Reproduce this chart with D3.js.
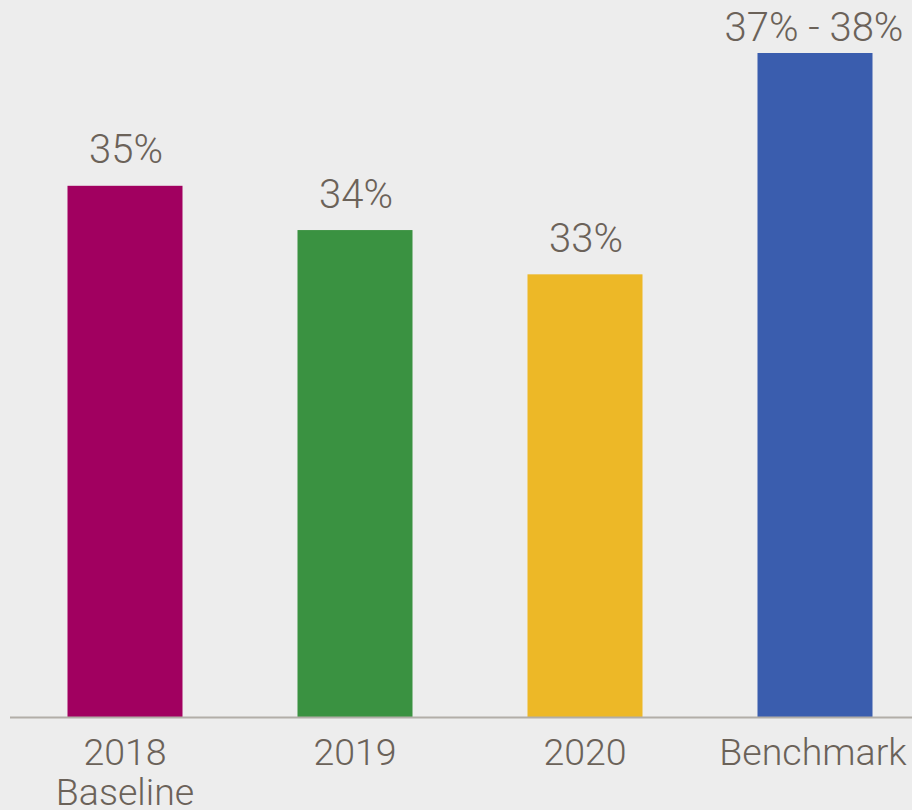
<!DOCTYPE html>
<html>
<head>
<meta charset="utf-8">
<script src="https://cdn.jsdelivr.net/npm/d3@7"></script>
<style>
  html, body { margin: 0; padding: 0; background: #ededed; }
  svg { display: block; }
  text { font-family: Roboto, "Noto Sans", sans-serif; font-weight: 300; fill: #6b6259; }
</style>
</head>
<body>
<svg id="chart" width="912" height="810"></svg>
<script>
const categories = ["2018|Baseline", "2019", "2020", "Benchmark"];
const values = [35, 34, 33, 38];
const valueLabels = ["35%", "34%", "33%", "37% - 38%"];
const colors = ["#a10060", "#3a9241", "#edb827", "#3a5dae"];

const W = 912, H = 810;
const svg = d3.select("#chart");
svg.append("rect").attr("width", W).attr("height", H).attr("fill", "#ededed");

const x = d3.scaleBand().domain(categories).range([10, 930]).paddingInner(0.5).paddingOuter(0.25);
const y = d3.scaleLinear().domain([23, 38]).range([717, 53]);

const data = categories.map((c, i) => ({ c, v: values[i], label: valueLabels[i], color: colors[i] }));

svg.selectAll("rect.bar").data(data).enter().append("rect")
  .attr("class", "bar")
  .attr("x", d => x(d.c))
  .attr("width", x.bandwidth())
  .attr("y", d => y(d.v))
  .attr("height", d => y(23) - y(d.v))
  .attr("fill", d => d.color);

svg.selectAll("text.val").data(data).enter().append("text")
  .attr("class", "val")
  .attr("x", d => x(d.c) + x.bandwidth() / 2 + (d.c === "Benchmark" ? -1 : 1))
  .attr("y", d => Math.max(y(d.v) - 22.5, 41))
  .attr("text-anchor", "middle")
  .attr("font-size", 40)
  .text(d => d.label);

// baseline axis
svg.append("line")
  .attr("x1", 10).attr("x2", 912)
  .attr("y1", 717.5).attr("y2", 717.5)
  .attr("stroke", "#b2aea8").attr("stroke-width", 2);

const lbl = svg.selectAll("text.cat").data(data).enter().append("text")
  .attr("class", "cat")
  .attr("text-anchor", "middle")
  .attr("font-size", 37.5)
  .attr("x", d => x(d.c) + x.bandwidth() / 2)
  .attr("y", 765);
lbl.each(function(d) {
  const parts = d.c.split("|");
  parts.forEach((p, i) => {
    d3.select(this).append("tspan")
      .attr("x", x(d.c) + x.bandwidth() / 2 + (d.c === "Benchmark" ? -2 : 0))
      .attr("dy", i === 0 ? 0 : 40)
      .text(p);
  });
});
</script>
</body>
</html>
